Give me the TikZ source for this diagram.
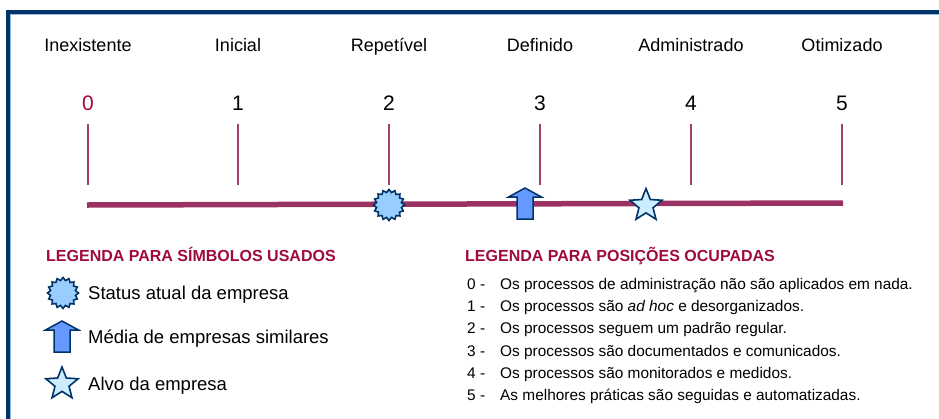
\documentclass[tikz,border=0pt]{standalone}
\usepackage{fontspec}
\setmainfont{Liberation Sans}
\usetikzlibrary{shapes.geometric}
\definecolor{framedark}{RGB}{0,51,102}
\definecolor{framelight}{RGB}{150,185,225}
\definecolor{axiscol}{RGB}{155,50,100}
\definecolor{tickcol}{RGB}{165,60,110}
\definecolor{headcol}{RGB}{160,10,60}
\definecolor{zerocol}{RGB}{165,10,55}
\definecolor{symline}{RGB}{0,51,102}
\definecolor{burstfill}{RGB}{153,204,255}
\definecolor{arrowfill}{RGB}{102,153,255}
\definecolor{starfill}{RGB}{204,236,255}
\tikzset{
  lvl/.style={anchor=base,font=\fontsize{18}{21}\selectfont,inner sep=0pt},
  num/.style={anchor=base,font=\fontsize{21}{24}\selectfont,inner sep=0pt},
  tick/.style={draw=tickcol,line width=1.4pt},
  axisline/.style={draw=axiscol,line width=5.5pt},
  burst/.style={shape=star,star points=16,star point ratio=1.22,minimum size=31pt,inner sep=0pt,
     draw=symline,fill=burstfill,line width=1.6pt},
  starsym/.style={shape=star,star points=5,star point ratio=2.3,minimum size=34pt,inner sep=0pt,
     draw=symline,fill=starfill,line width=1.6pt},
  legtitle/.style={anchor=base west,inner sep=0pt,text=headcol,font=\bfseries\fontsize{16}{19}\selectfont},
  legtext/.style={anchor=base west,inner sep=0pt,font=\fontsize{18.5}{21}\selectfont},
  postext/.style={anchor=base west,inner sep=0pt,font=\fontsize{15.4}{18}\selectfont},
  uparrow/.pic={
    \draw[symline,fill=arrowfill,line width=1.5pt,line join=miter]
      (0,-15.5) -- (16.5,-6.5) -- (8,-6.5) -- (8,15.5) -- (-8,15.5) -- (-8,-6.5) -- (-16.5,-6.5) -- cycle;
  }
}
\begin{document}
\begin{tikzpicture}[x=1pt,y=-1pt]
\useasboundingbox (0,0) rectangle (939,418);
\fill[white] (0,0) rectangle (939,418);
% frame
\draw[framelight,line width=1pt] (10.8,420) -- (10.8,14.8) -- (940,14.8);
\draw[framedark,line width=4pt,line cap=rect] (8,420) -- (8,12) -- (940,12);

% level names
\foreach \x/\n/\t in {88/0/Inexistente,238/1/Inicial,389/2/Repetível,540/3/Definido,691/4/Administrado,842/5/Otimizado}{
  \node[lvl] (name\n) at (\x,51.5) {\t};
  \node[coordinate] (tt\n) at (\x,124) {};
  \node[coordinate] (tb\n) at (\x,185) {};
  \draw[tick] (tt\n) -- (tb\n);
}
\node[num,text=zerocol] (n0) at (88,110) {0};
\foreach \x/\n in {238/1,389/2,540/3,691/4,842/5}{
  \node[num] (n\n) at (\x,110) {\n};
}
% axis
\coordinate (axL) at (87,205);
\coordinate (axR) at (843,203);
\draw[axisline] (axL) -- (axR);

% symbols on axis
\node[burst] (sb) at (389,205) {};
\pic at (525,203.5) {uparrow};
\node[starsym] (st) at (646,205.5) {};

% left legend
\node[legtitle] (lt1) at (46,261) {LEGENDA PARA SÍMBOLOS USADOS};
\node[burst] (lb) at (63,293) {};
\node[legtext] (l1) at (88,299) {Status atual da empresa};
\pic at (62,336.5) {uparrow};
\node[legtext] (l2) at (88,343.3) {Média de empresas similares};
\node[starsym] (ls) at (62,384) {};
\node[legtext] (l3) at (88,390.7) {Alvo da empresa};

% right legend
\node[legtitle] (lt2) at (465,261) {LEGENDA PARA POSIÇÕES OCUPADAS};
\foreach \k/\t in {0/{Os processos de administração não são aplicados em nada.},
                   1/{Os processos são \textit{ad hoc} e desorganizados.},
                   2/{Os processos seguem um padrão regular.},
                   3/{Os processos são documentados e comunicados.},
                   4/{Os processos são monitorados e medidos.},
                   5/{As melhores práticas são seguidas e automatizadas.}}{
  \node[postext] (pn\k) at (467,289.3+22.3*\k) {\k\ -};
  \node[postext] (pt\k) at (500,289.3+22.3*\k) {\t};
}
\end{tikzpicture}
\end{document}
